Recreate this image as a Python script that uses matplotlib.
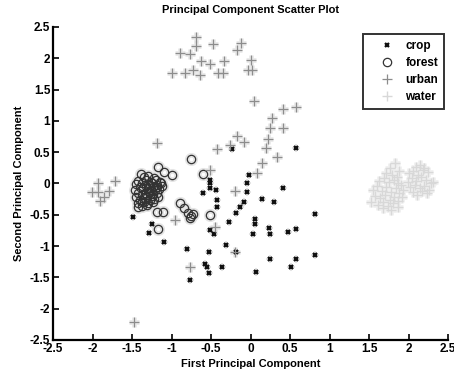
import matplotlib
matplotlib.use("Agg")
import matplotlib.pyplot as plt
from matplotlib.lines import Line2D

plt.rcParams['font.family'] = ['Liberation Sans', 'DejaVu Sans']
plt.rcParams['font.weight'] = 'bold'

# ---- scores on the first two principal components, per land-cover class ----
crop_x = [0.58, -0.23, -0.02, -0.05, -0.05, -0.51, -0.51, -0.44, -0.60, -0.43,
          -0.42, -0.08, -0.13, -0.18, 0.41, 0.14, 0.30, 0.82, -0.27, 0.06,
          0.06, 0.03, 0.23, 0.25, 0.47, 0.58, -0.51, -0.46, -0.31, -0.81,
          -0.53, -0.58, -0.55, -0.53, -0.36, 0.07, 0.25, 0.57, 0.51, 0.82,
          -0.77, -1.49, -1.29, -1.25, -1.10, -0.19, -0.51]
crop_y = [0.56, 0.55, 0.14, 0.00, -0.13, 0.06, -0.08, -0.10, -0.16, -0.26,
          -0.37, -0.29, -0.38, -0.47, -0.08, -0.25, -0.29, -0.49, -0.61, -0.57,
          -0.64, -0.80, -0.71, -0.80, -0.77, -0.72, -0.74, -0.81, -0.98, -1.04,
          -1.10, -1.29, -1.33, -1.43, -1.33, -1.42, -1.21, -1.21, -1.34, -1.14,
          -1.55, -0.53, -0.79, -0.64, -0.93, -1.09, 0.01]

forest_x = [-0.76, -1.17, -1.10, -0.99, -1.39, -0.60, -0.90, -0.84, -0.79, -0.75,
            -0.73, -0.77, -0.52, -1.19, -1.11, -1.17, -1.42, -1.35,
            -1.35, -1.30, -1.22,
            -1.42, -1.32, -1.26, -1.20, -1.15,
            -1.45, -1.38, -1.30, -1.25, -1.19, -1.14,
            -1.40, -1.33, -1.28, -1.23, -1.18, -1.12,
            -1.46, -1.36, -1.30, -1.26, -1.21, -1.16,
            -1.42, -1.34, -1.28, -1.24, -1.19,
            -1.45, -1.38, -1.31, -1.25, -1.17,
            -1.40, -1.34, -1.27, -1.22,
            -1.43, -1.37, -1.30, -1.24,
            -1.38, -1.31]
forest_y = [0.39, 0.26, 0.19, 0.14, 0.15, 0.15, -0.32, -0.40, -0.47, -0.52,
            -0.49, -0.55, -0.50, -0.45, -0.45, -0.72, -0.37, -0.30,
            0.10, 0.12, 0.09,
            0.04, 0.06, 0.03, 0.05, 0.02,
            -0.01, 0.00, -0.02, 0.01, -0.03, 0.00,
            -0.06, -0.04, -0.07, -0.05, -0.06, -0.04,
            -0.11, -0.09, -0.12, -0.10, -0.11, -0.09,
            -0.15, -0.16, -0.14, -0.17, -0.15,
            -0.21, -0.19, -0.22, -0.20, -0.21,
            -0.26, -0.24, -0.27, -0.25,
            -0.31, -0.29, -0.32, -0.30,
            -0.36, -0.35]

urban_x = [-0.69, -0.69, -0.48, -0.89, -0.77, -0.63, -0.52, -0.34, -0.12, -0.17,
           0.00, -0.03, 0.02, -1.00, -0.83, -0.73, -0.64, -0.41, -0.35,
           0.04, 0.41, 0.58, 0.27, 0.25, 0.41, -0.17, -0.08, -0.26, 0.22,
           0.20, 0.34, 0.15, 0.08, -0.43, -0.51, -0.20,
           -1.93, -1.72, -2.01, -1.93, -1.79, -1.86, -1.91, -1.18,
           -0.96, -0.45, -0.20, -0.77, -1.48]
urban_y = [2.34, 2.20, 2.23, 2.08, 2.06, 1.96, 1.90, 1.95, 2.24, 2.13,
           1.97, 1.81, 1.81, 1.76, 1.77, 1.81, 1.73, 1.77, 1.77,
           1.31, 1.19, 1.22, 1.05, 0.88, 0.88, 0.75, 0.66, 0.62, 0.71,
           0.56, 0.43, 0.33, 0.16, 0.55, 0.22, -0.12,
           0.00, 0.04, -0.13, -0.13, -0.12, -0.21, -0.28, 0.64,
           -0.59, -0.69, -1.09, -1.34, -2.21]

water_x = [1.55, 1.60, 1.66, 1.72, 1.78, 1.84, 1.90, 1.58, 1.64, 1.70,
           1.76, 1.82, 1.88, 1.93, 1.53, 1.61, 1.67, 1.74, 1.80, 1.86,
           1.92, 1.63, 1.69, 1.75, 1.81, 1.87, 1.71, 1.79, 1.85, 1.76,
           1.83, 1.88, 1.68, 1.78, 1.86,
           1.99, 2.04, 2.10, 2.16, 2.22, 2.28, 2.02, 2.08, 2.14, 2.20,
           2.26, 2.31, 2.00, 2.06, 2.12, 2.18, 2.24, 2.05, 2.11, 2.17,
           2.23, 2.09, 2.15, 2.20]
water_y = [-0.10, -0.04, -0.12, -0.06, -0.14, -0.08, -0.02, -0.20, -0.24,
           -0.18, -0.26, -0.22, -0.16, -0.10, -0.30, -0.34, -0.30, -0.36,
           -0.32, -0.28, -0.22, 0.04, 0.08, 0.02, 0.06, 0.00, 0.16, 0.14,
           0.10, 0.24, 0.32, 0.20, -0.40, -0.42, -0.38,
           0.02, 0.08, 0.04, 0.10, 0.06, 0.00, -0.06, -0.02, -0.08, -0.04,
           -0.10, 0.02, 0.16, 0.20, 0.14, 0.22, 0.18, -0.14, -0.18, -0.12,
           -0.16, 0.26, 0.30, 0.24]

class_names = ['crop', 'forest', 'urban', 'water']

fig = plt.figure(figsize=(4.54, 3.79), dpi=100)
ax = fig.add_axes([0.117, 0.103, 0.870, 0.826])

styles = [
    (crop_x, crop_y, dict(marker='x', color='#111111', ms=3.2, mew=1.6), '#e4e4e4'),
    (forest_x, forest_y, dict(marker='o', color='#333333', ms=6.0, mew=0.9,
                              mfc='none'), '#e4e4e4'),
    (urban_x, urban_y, dict(marker='+', color='#8c8c8c', ms=7.5, mew=0.9), '#e8e8e8'),
    (water_x, water_y, dict(marker='+', color='#d8d8d8', ms=7.5, mew=1.0), '#f0f0f0'),
]

# soft glow beneath every marker
for xs, ys, st, glow_color in styles:
    glow = dict(st)
    glow['color'] = glow_color
    glow['mew'] = st['mew'] + 2.5
    ax.plot(xs, ys, ls='none', zorder=1, **glow)

handles = []
for (xs, ys, st, _), name in zip(styles, class_names):
    ax.plot(xs, ys, ls='none', zorder=2, **st)
    handles.append(Line2D([], [], ls='none', label=name, **st))

ax.set_xlim(-2.5, 2.5)
ax.set_ylim(-2.5, 2.5)
ticks = [-2.5, -2, -1.5, -1, -0.5, 0, 0.5, 1, 1.5, 2, 2.5]
tick_labels = ['-2.5', '-2', '-1.5', '-1', '-0.5', '0', '0.5', '1', '1.5', '2', '2.5']
ax.set_xticks(ticks)
ax.set_xticklabels(tick_labels)
ax.set_yticks(ticks)
ax.set_yticklabels(tick_labels)

for side in ['top', 'right']:
    ax.spines[side].set_visible(False)
for side in ['left', 'bottom']:
    ax.spines[side].set_linewidth(1.6)
ax.tick_params(direction='in', length=4, width=1.2, labelsize=8.5, pad=2)

ax.set_title('Principal Component Scatter Plot', fontsize=8, fontweight='bold',
             pad=10)
ax.set_xlabel('First Principal Component', fontsize=8, fontweight='bold',
              labelpad=3)
ax.set_ylabel('Second Principal Component', fontsize=8, fontweight='bold',
              labelpad=4)

leg = ax.legend(handles=handles, loc='upper right', bbox_to_anchor=(0.99, 0.976),
                fancybox=False, frameon=True, fontsize=8.5, handlelength=3.0,
                handletextpad=0.1, borderpad=0.5, labelspacing=0.42,
                borderaxespad=0)
leg.get_frame().set_edgecolor('black')
leg.get_frame().set_linewidth(1.4)

fig.savefig('out.png', dpi=100)
